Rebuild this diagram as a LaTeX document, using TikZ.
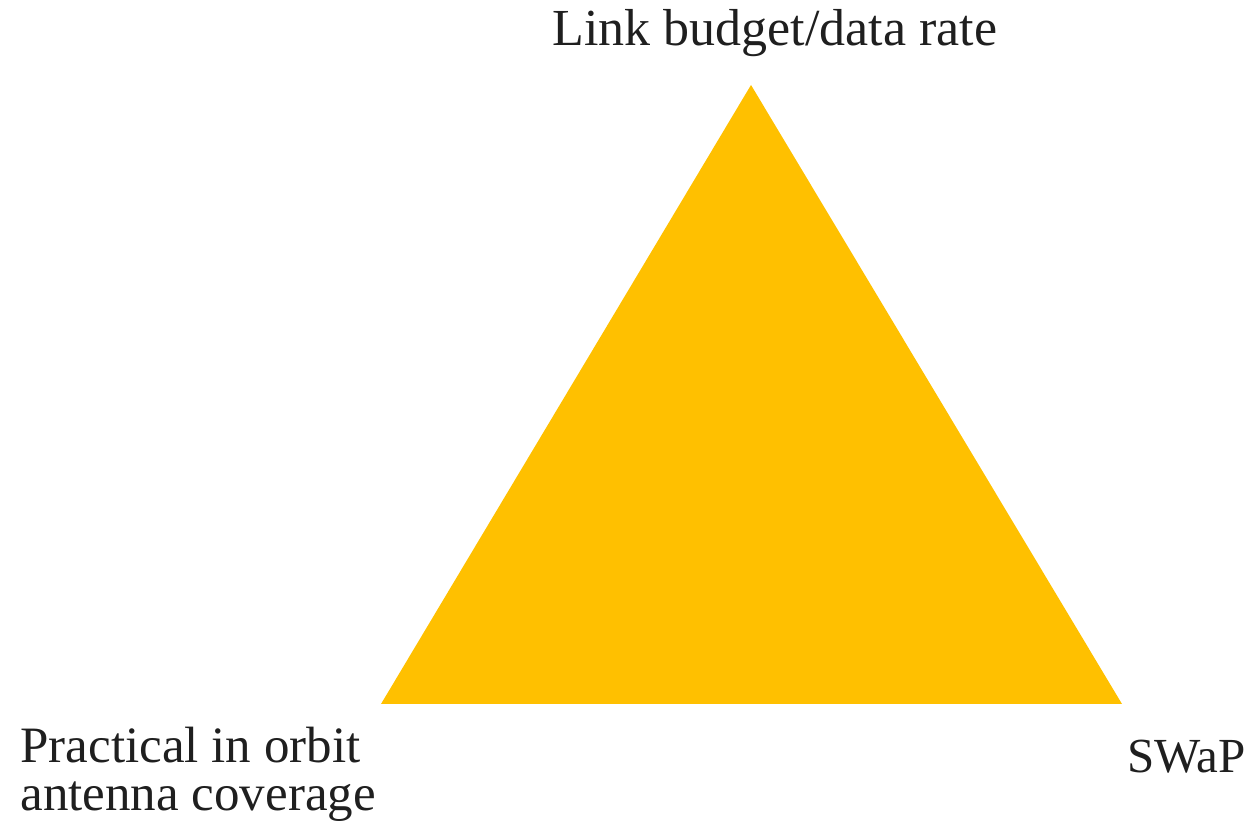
\documentclass[tikz,border=0pt]{standalone}
\usepackage{fontspec}
\setmainfont{Liberation Serif}
\definecolor{gold}{HTML}{FFC000}
\tikzset{
  corner/.style={inner sep=0pt, text=black!88, font=\fontsize{26}{24}\selectfont},
}

\begin{document}
\begin{tikzpicture}[x=0.5pt, y=-0.5pt]
        \useasboundingbox (0,0) rectangle (1253,822);
        \coordinate (top) at (751,85);
        \coordinate (left) at (381,704);
        \coordinate (right) at (1122,704);
        \fill[gold] (top) -- (left) -- (right) -- cycle;
        \node[corner, anchor=base] (link) at (775,46) {Link budget/data rate};
        \node[corner, anchor=north west, align=left, font=\fontsize{25.5}{24}\selectfont] (practical) at (20,727) {Practical in orbit\\antenna coverage};
        \node[corner, anchor=base west, font=\fontsize{24.5}{24}\selectfont] (swap) at (1127,773) {SWaP};
      \end{tikzpicture}
\end{document}
